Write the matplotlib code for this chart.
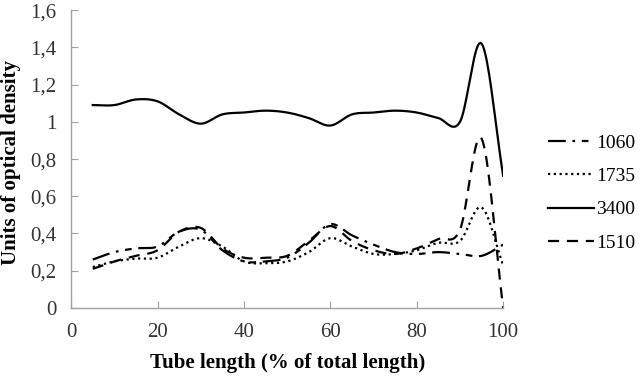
import numpy as np
import matplotlib
matplotlib.use("Agg")
import matplotlib.pyplot as plt
from matplotlib.ticker import FuncFormatter, MultipleLocator

plt.rcParams['font.family'] = ['Liberation Serif', 'DejaVu Serif']

# posicao ao longo do tubo (% do comprimento total)
tube_pos = [5, 10, 15, 20, 25, 30, 35, 40, 45, 50,
            55, 60, 65, 70, 75, 80, 85, 90, 95, 100]

od_1060 = [0.26, 0.30, 0.32, 0.33, 0.41, 0.42, 0.31, 0.25, 0.25, 0.27,
           0.35, 0.45, 0.39, 0.34, 0.30, 0.29, 0.30, 0.29, 0.28, 0.34]
od_1735 = [0.22, 0.25, 0.265, 0.27, 0.33, 0.375, 0.33, 0.25, 0.24, 0.25,
           0.30, 0.375, 0.33, 0.29, 0.29, 0.31, 0.35, 0.36, 0.54, 0.23]
od_3400 = [1.09, 1.09, 1.12, 1.11, 1.04, 0.99, 1.04, 1.05, 1.06, 1.05,
           1.02, 0.98, 1.04, 1.05, 1.06, 1.05, 1.02, 1.00, 1.42, 0.71]
od_1510 = [0.21, 0.25, 0.28, 0.31, 0.41, 0.43, 0.32, 0.27, 0.27, 0.28,
           0.36, 0.44, 0.36, 0.31, 0.29, 0.32, 0.37, 0.42, 0.91, 0.0]

labels = ["1060", "1735", "3400", "1510"]


def smooth(x, y, n=20):
    """Curva suavizada tipo Catmull-Rom (como a linha suavizada do Excel)."""
    p = np.column_stack([x, y]).astype(float)
    p = np.vstack([2 * p[0] - p[1], p, 2 * p[-1] - p[-2]])
    out = []
    t = np.linspace(0, 1, n, endpoint=False)[:, None]
    for i in range(1, len(p) - 2):
        p0, p1, p2, p3 = p[i - 1], p[i], p[i + 1], p[i + 2]
        seg = 0.5 * ((2 * p1) + (-p0 + p2) * t
                     + (2 * p0 - 5 * p1 + 4 * p2 - p3) * t ** 2
                     + (-p0 + 3 * p1 - 3 * p2 + p3) * t ** 3)
        out.append(seg)
    out.append(p[-2][None, :])
    out = np.vstack(out)
    return out[:, 0], out[:, 1]


fig = plt.figure(figsize=(6.41, 3.76), dpi=100)
ax = fig.add_axes([0.111, 0.181, 0.674, 0.792])

styles = [
    dict(linestyle=(0, (8, 3, 1.2, 3, 3, 3)), linewidth=1.6),
    dict(linestyle=(0, (1, 1.6)), linewidth=1.6),
    dict(linestyle='-', linewidth=1.6),
    dict(linestyle=(0, (5, 3.5)), linewidth=1.6),
]

for vals, lab, st in zip([od_1060, od_1735, od_3400, od_1510], labels, styles):
    xs, ys = smooth(tube_pos, vals)
    ax.plot(xs, ys, color='black', label=lab, **st)

ax.set_xlim(0, 100)
ax.set_ylim(0, 1.6)
ax.xaxis.set_major_locator(MultipleLocator(20))
ax.yaxis.set_major_locator(MultipleLocator(0.2))
ax.yaxis.set_major_formatter(FuncFormatter(lambda v, p: f"{v:.1f}".rstrip('0').rstrip('.').replace('.', ',')))

for s in ['top', 'right']:
    ax.spines[s].set_visible(False)
for s in ['left', 'bottom']:
    ax.spines[s].set_color('#a0a0a0')
    ax.spines[s].set_linewidth(1.0)
ax.tick_params(direction='in', length=5, width=0.8, color='#a0a0a0',
               labelsize=15, labelcolor='#333333')
ax.tick_params(axis='y', pad=10.5)
ax.tick_params(axis='x', pad=11)

ax.set_xlabel("Tube length (% of total length)", fontsize=15, fontweight='bold')
ax.set_ylabel("Units of optical density", fontsize=15, fontweight='bold')
ax.xaxis.set_label_coords(0.5, -0.15)
ax.yaxis.set_label_coords(-0.115, 0.49)

ax.legend(loc='center left', bbox_to_anchor=(1.085, 0.386), frameon=False,
          fontsize=14, handlelength=2.4, handletextpad=0.1, labelspacing=0.81,
          borderaxespad=0)

fig.savefig("out.png", dpi=100)
